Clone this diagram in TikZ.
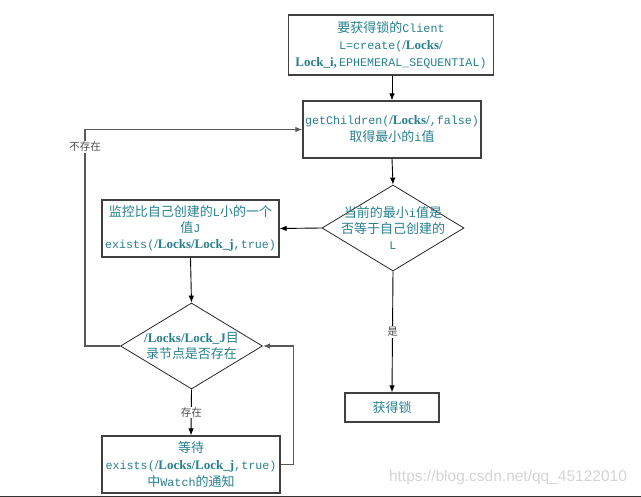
\documentclass[tikz,border=0pt]{standalone}
\usepackage{fontspec}
\setmainfont{Noto Sans CJK SC}
\setmonofont{Liberation Mono}[Scale=0.9]
\newfontfamily\lockfont{Liberation Serif}
\newfontfamily\wmfont{Liberation Sans}
\usetikzlibrary{arrows.meta,shapes.geometric}
\definecolor{zktext}{RGB}{38,128,142}
\newcommand{\pth}[1]{{\lockfont\bfseries #1}}

\tikzset{
  box/.style={draw=black!75,line width=1.2pt,rectangle,inner sep=0pt,align=center,
    text=zktext,font=\fontsize{13}{17}\selectfont},
  decision/.style={draw=black!85,line width=0.8pt,diamond,inner sep=0pt,
    minimum width=142pt,minimum height=86pt},
  dtext/.style={align=center,text=zktext,font=\fontsize{13}{16}\selectfont},
  arr/.style={-{Latex[length=7pt,width=5.5pt]},line width=0.9pt},
  loopline/.style={arr,draw=black!65,line width=1.3pt},
  lbl/.style={fill=white,inner sep=1pt,text=black!70,font=\fontsize{10.5}{12}\selectfont}
}

\begin{document}
\begin{tikzpicture}[x=1pt,y=-1pt]
\useasboundingbox (0,0) rectangle (641,497);

% boxes
\node [box,minimum width=205pt,minimum height=60pt] (client) at (391,45)
  {要获得锁的\texttt{Client}\\
   \texttt{L=create(}\pth{/Locks/}\\
   \pth{Lock\_i,}\,\texttt{EPHEMERAL\_SEQUENTIAL)}};
\node [box,minimum width=178pt,minimum height=57pt] (getchild) at (392,129.5)
  {\texttt{getChildren(}\pth{/Locks/}\texttt{,false)}\\
   取得最小的\texttt{i}值};
\node [decision,label={[dtext]center:{当前的最小\texttt{i}值是\\否等于自己创建的\\\texttt{L}}}] (ismin) at (393,228) {};
\node [box,minimum width=177pt,minimum height=57pt,font=\fontsize{13}{16}\selectfont] (watch) at (190.5,228.5)
  {监控比自己创建的\texttt{L}小的一个\\
   值\texttt{J}\\
   \texttt{exists(}\pth{/Locks/Lock\_j}\texttt{,true)}};
\node [decision,label={[dtext]center:{\pth{/Locks/Lock\_J}目\\录节点是否存在}}] (exists) at (191.5,346) {};
\node [box,minimum width=178pt,minimum height=57pt] (wait) at (191,464.5)
  {等待\\
   \texttt{exists(}\pth{/Locks/Lock\_j}\texttt{,true)}\\
   中\texttt{Watch}的通知};
\node [box,minimum width=94pt,minimum height=29pt] (lock) at (392,407.5) {获得锁};

% connectors
\draw [arr] (client.south -| getchild.north) -- (getchild.north);
\draw [arr] (getchild.south) -- (ismin.north);
\draw [arr] (ismin.west) -- (watch.east);
\draw [arr] (watch.south) -- (exists.north);
\draw [arr] (ismin.south) -- node [lbl] {是} (lock.north);
\draw [arr] (exists.south) -- node [lbl] {存在} (wait.north);
\draw [loopline] (exists.west) -- ++(-35,0) |- node [lbl,pos=0.46] {不存在} (getchild.west);
\draw [loopline] (wait.east) -- ++(13,0) |- (exists.east);

% watermark and lower edge
\node [text=black!17,font=\wmfont\fontsize{15.5}{17}\selectfont] (mark) at (508,477)
  {https://blog.csdn.net/qq\_45122010};
\draw [black!80,line width=1.5pt] (0,496.3) -- (641,496.3);
\end{tikzpicture}
\end{document}
